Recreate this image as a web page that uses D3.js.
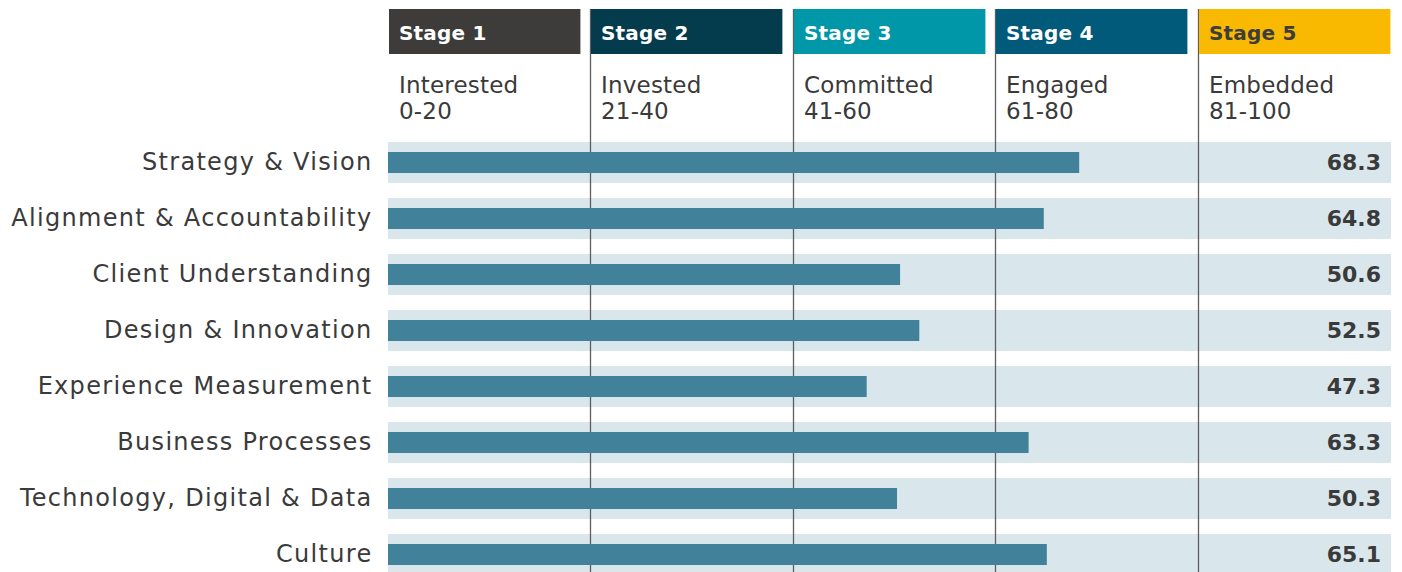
<!DOCTYPE html>
<html>
<head>
<meta charset="utf-8">
<script src="https://cdn.jsdelivr.net/npm/d3@7"></script>
<style>
  body { margin: 0; background: #fff; }
  #chart text { font-family: "DejaVu Sans", sans-serif; }
</style>
</head>
<body>
<div id="chart"></div>
<script>
// data
var categories = ["Strategy & Vision", "Alignment & Accountability", "Client Understanding",
    "Design & Innovation", "Experience Measurement", "Business Processes",
    "Technology, Digital & Data", "Culture"];
var scores = [68.3, 64.8, 50.6, 52.5, 47.3, 63.3, 50.3, 65.1];

var stageNames = ["Stage 1", "Stage 2", "Stage 3", "Stage 4", "Stage 5"];
var stageLevels = ["Interested", "Invested", "Committed", "Engaged", "Embedded"];
var stageRanges = ["0-20", "21-40", "41-60", "61-80", "81-100"];
var stageStarts = [0, 20, 40, 60, 80];
var stageEnds = [20, 40, 60, 80, 100];
var stageColors = ["#3d3c3a", "#043c4d", "#0097a9", "#015a7a", "#f8b900"];
var stageTextColors = ["#fff", "#fff", "#fff", "#fff", "#3d3d3d"];

var width = 1402, height = 572;

var svg = d3.select("#chart").append("svg")
    .attr("width", width)
    .attr("height", height);

// scales
var x = d3.scaleLinear()
    .domain([0, 100])
    .range([388, 1400]);

var y = d3.scaleBand()
    .domain(categories)
    .range([142, 575])
    .paddingInner(15 / 56)
    .paddingOuter(0);

// light row bands
svg.selectAll(".band")
    .data(categories)
    .enter().append("rect")
    .attr("class", "band")
    .attr("x", x(0))
    .attr("y", function(d) { return y(d); })
    .attr("width", x(100) - 9 - x(0))
    .attr("height", y.bandwidth())
    .attr("fill", "#d9e7ed");

// stage divider lines
svg.selectAll(".divider")
    .data(stageStarts.slice(1))
    .enter().append("line")
    .attr("class", "divider")
    .attr("x1", function(d) { return Math.round(x(d)) + 0.5; })
    .attr("x2", function(d) { return Math.round(x(d)) + 0.5; })
    .attr("y1", 9)
    .attr("y2", height)
    .attr("stroke", "#5e5e5e")
    .attr("stroke-width", 1.3);

// stage header boxes
var stage = svg.selectAll(".stage")
    .data(stageNames)
    .enter().append("g")
    .attr("class", "stage")
    .attr("transform", function(d, i) { return "translate(" + (Math.round(x(stageStarts[i])) + 1) + ",0)"; });

stage.append("rect")
    .attr("y", 9)
    .attr("width", function(d, i) { return x(stageEnds[i]) - x(stageStarts[i]) - 11; })
    .attr("height", 45)
    .attr("fill", function(d, i) { return stageColors[i]; });

stage.append("text")
    .attr("x", 10)
    .attr("y", 40)
    .attr("fill", function(d, i) { return stageTextColors[i]; })
    .style("font-size", "20px")
    .style("font-weight", "700")
    .style("letter-spacing", "0.2px")
    .text(function(d) { return d; });

stage.append("text")
    .attr("x", 10)
    .attr("y", 93)
    .attr("fill", "#3a3a3a")
    .style("font-size", "23px")
    .style("letter-spacing", "0.2px")
    .text(function(d, i) { return stageLevels[i]; });

stage.append("text")
    .attr("x", 10)
    .attr("y", 119)
    .attr("fill", "#3a3a3a")
    .style("font-size", "23px")
    .style("letter-spacing", "0.2px")
    .text(function(d, i) { return stageRanges[i]; });

// score bars
svg.selectAll(".bar")
    .data(scores)
    .enter().append("rect")
    .attr("class", "bar")
    .attr("x", x(0))
    .attr("y", function(d, i) { return y(categories[i]) + 10; })
    .attr("width", function(d) { return x(d) - x(0); })
    .attr("height", 21)
    .attr("fill", "#41819a");

// score labels
svg.selectAll(".score")
    .data(scores)
    .enter().append("text")
    .attr("class", "score")
    .attr("x", x(100) - 19)
    .attr("y", function(d, i) { return y(categories[i]) + y.bandwidth() / 2; })
    .attr("dy", "0.32em")
    .attr("text-anchor", "end")
    .attr("fill", "#3a3a3a")
    .style("font-size", "22px")
    .style("font-weight", "700")
    .text(function(d) { return d.toFixed(1); });

// category axis
var yAxis = svg.append("g")
    .attr("transform", "translate(" + x(0) + ",0)")
    .call(d3.axisLeft(y).tickSize(0).tickPadding(15.5));

yAxis.select(".domain").remove();
yAxis.selectAll("text")
    .attr("fill", "#3a3a3a")
    .attr("dy", "0.32em")
    .style("font-size", "24px")
    .style("letter-spacing", "1.3px")
    .style("font-family", "'DejaVu Sans', sans-serif");
</script>
</body>
</html>
